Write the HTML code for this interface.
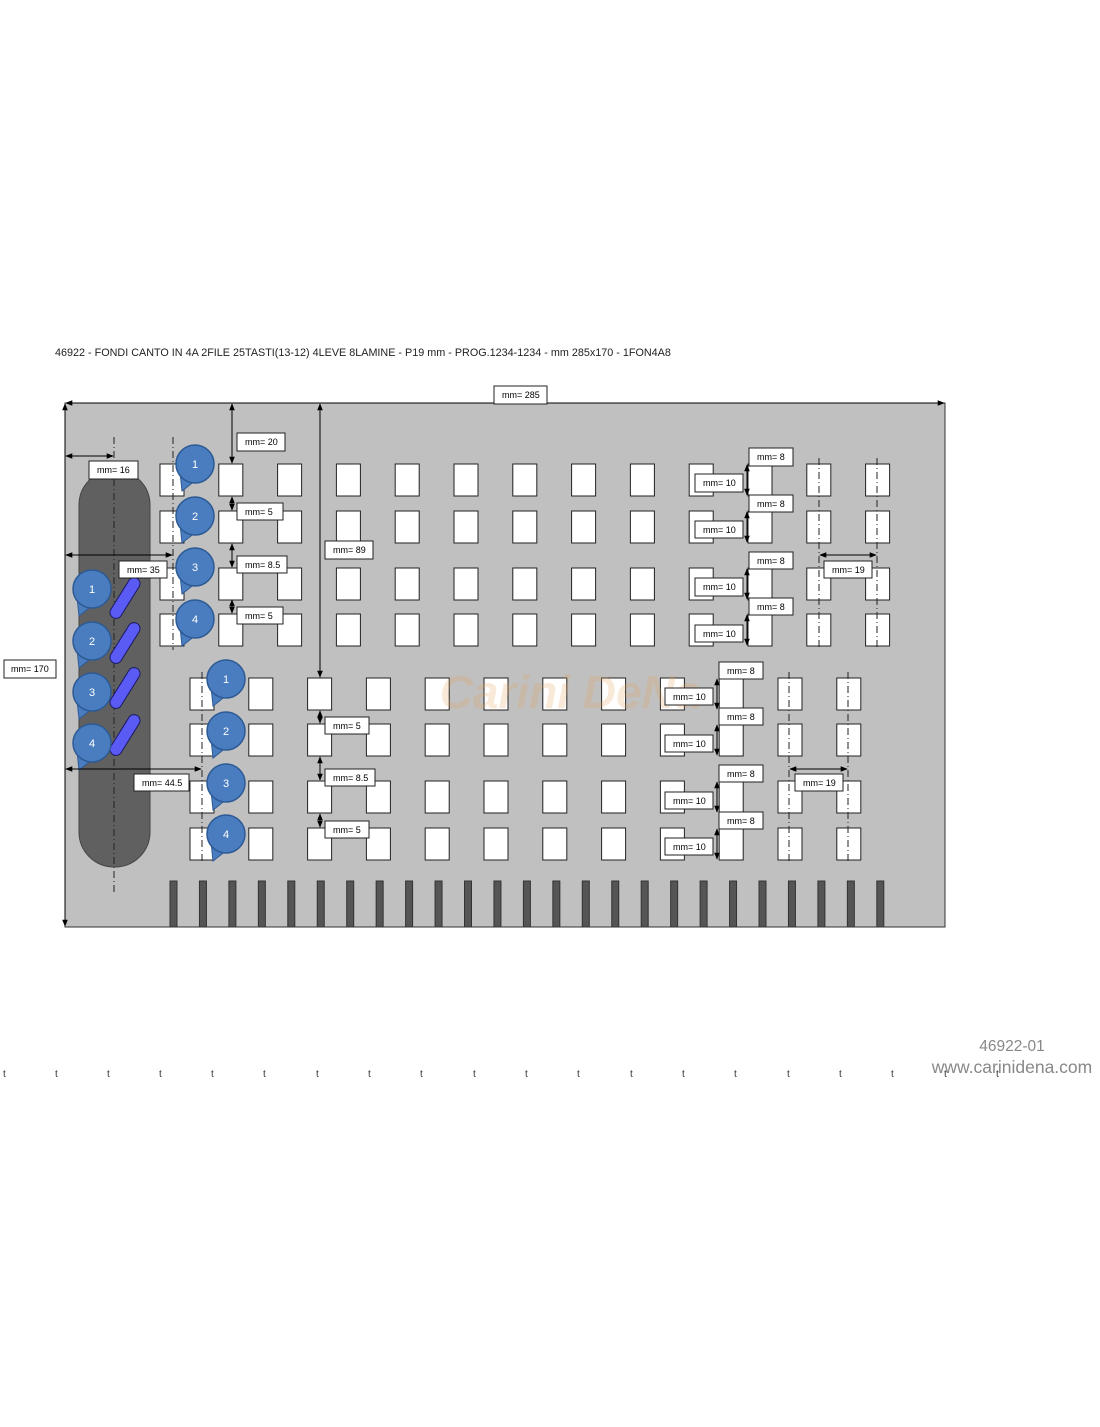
<!DOCTYPE html>
<html><head><meta charset="utf-8"><style>
html,body{margin:0;padding:0;background:#fff;}
body{width:1100px;height:1422px;position:relative;overflow:hidden;font-family:"Liberation Sans",sans-serif;}
svg text{font-family:"Liberation Sans",sans-serif;}
</style></head><body>
<svg id="s" width="1100" height="1422" viewBox="0 0 1100 1422" xmlns="http://www.w3.org/2000/svg">
<defs>
<marker id="a" viewBox="0 0 10 10" refX="9" refY="5" markerWidth="7" markerHeight="7" orient="auto-start-reverse"><path d="M0,1 L10,5 L0,9 z" fill="#000"/></marker>
</defs>
<text x="55" y="356" font-size="10.8" fill="#222">46922 - FONDI CANTO IN 4A 2FILE 25TASTI(13-12) 4LEVE 8LAMINE - P19 mm - PROG.1234-1234 - mm 285x170 - 1FON4A8</text>
<rect x="65" y="403" width="880" height="524" fill="#c0c0c0" stroke="#333" stroke-width="1"/>
<g id="blades"></g>
<rect x="79" y="470" width="71" height="397" rx="35" ry="35" fill="#606060" stroke="#444"/>
<g id="sq"></g>
<text x="570" y="708" font-size="46" font-style="italic" font-weight="bold" fill="#e8a050" opacity="0.22" text-anchor="middle">Carini DeNa</text>
<g stroke="#222" stroke-width="1" stroke-dasharray="7,3,1,3" fill="none">
<line x1="114" y1="437" x2="114" y2="893"/>
<line x1="173" y1="437" x2="173" y2="650"/>
<line x1="202" y1="672" x2="202" y2="862"/>
<line x1="819" y1="458" x2="819" y2="650"/>
<line x1="877" y1="458" x2="877" y2="650"/>
<line x1="789" y1="672" x2="789" y2="862"/>
<line x1="848" y1="672" x2="848" y2="862"/>
</g>
<g id="purp"></g>
<g id="bub"></g>
<g stroke="#000" stroke-width="1" marker-start="url(#a)" marker-end="url(#a)">
<line x1="66" y1="403" x2="944" y2="403"/>
<line x1="65" y1="404" x2="65" y2="926"/>
<line x1="232" y1="404" x2="232" y2="463"/>
<line x1="320" y1="404" x2="320" y2="677"/>
<line x1="66" y1="456" x2="113" y2="456"/>
<line x1="66" y1="555" x2="172" y2="555"/>
<line x1="66" y1="769" x2="201" y2="769"/>
<line x1="232" y1="497" x2="232" y2="510"/>
<line x1="232" y1="544" x2="232" y2="567"/>
<line x1="232" y1="600" x2="232" y2="613"/>
<line x1="320" y1="711" x2="320" y2="723"/>
<line x1="320" y1="757" x2="320" y2="780"/>
<line x1="320" y1="814" x2="320" y2="827"/>
<line x1="747" y1="465" x2="747" y2="495"/>
<line x1="747" y1="512" x2="747" y2="542"/>
<line x1="747" y1="569" x2="747" y2="599"/>
<line x1="747" y1="615" x2="747" y2="645"/>
<line x1="717" y1="679" x2="717" y2="709"/>
<line x1="717" y1="725" x2="717" y2="755"/>
<line x1="717" y1="782" x2="717" y2="812"/>
<line x1="717" y1="829" x2="717" y2="859"/>
<line x1="820" y1="555" x2="876" y2="555"/>
<line x1="790" y1="769" x2="847" y2="769"/>
</g>
<g id="lab" font-size="9" fill="#000">
<g fill="#fff" stroke="#222" stroke-width="1">
<rect x="494" y="386" width="53" height="18"/><rect x="4" y="660" width="52" height="18"/>
<rect x="237" y="433" width="48" height="18"/><rect x="325" y="541" width="48" height="18"/>
<rect x="89" y="461" width="49" height="18"/><rect x="119" y="561" width="48" height="17"/>
<rect x="134" y="774" width="55" height="17"/>
<rect x="237" y="503" width="46" height="17"/><rect x="237" y="556" width="50" height="17"/><rect x="237" y="607" width="46" height="17"/>
<rect x="325" y="717" width="44" height="17"/><rect x="325" y="769" width="50" height="17"/><rect x="325" y="821" width="44" height="17"/>
<rect x="749" y="448" width="44" height="18"/><rect x="749" y="495" width="44" height="17"/><rect x="749" y="552" width="44" height="17"/><rect x="749" y="598" width="44" height="17"/>
<rect x="695" y="474" width="48" height="18"/><rect x="695" y="521" width="48" height="17"/><rect x="695" y="578" width="48" height="18"/><rect x="695" y="625" width="48" height="17"/>
<rect x="719" y="662" width="44" height="17"/><rect x="719" y="708" width="44" height="17"/><rect x="719" y="765" width="44" height="17"/><rect x="719" y="812" width="44" height="17"/>
<rect x="665" y="688" width="48" height="17"/><rect x="665" y="735" width="48" height="17"/><rect x="665" y="792" width="48" height="17"/><rect x="665" y="838" width="48" height="17"/>
<rect x="824" y="561" width="48" height="17"/><rect x="795" y="774" width="48" height="17"/>
</g>
<text x="502" y="398">mm= 285</text><text x="11" y="672">mm= 170</text>
<text x="245" y="445">mm= 20</text><text x="333" y="553">mm= 89</text>
<text x="97" y="473">mm= 16</text><text x="127" y="573">mm= 35</text>
<text x="142" y="786">mm= 44.5</text>
<text x="245" y="515">mm= 5</text><text x="245" y="568">mm= 8.5</text><text x="245" y="619">mm= 5</text>
<text x="333" y="729">mm= 5</text><text x="333" y="781">mm= 8.5</text><text x="333" y="833">mm= 5</text>
<text x="757" y="460">mm= 8</text><text x="757" y="507">mm= 8</text><text x="757" y="564">mm= 8</text><text x="757" y="610">mm= 8</text>
<text x="703" y="486">mm= 10</text><text x="703" y="533">mm= 10</text><text x="703" y="590">mm= 10</text><text x="703" y="637">mm= 10</text>
<text x="727" y="674">mm= 8</text><text x="727" y="720">mm= 8</text><text x="727" y="777">mm= 8</text><text x="727" y="824">mm= 8</text>
<text x="673" y="700">mm= 10</text><text x="673" y="747">mm= 10</text><text x="673" y="804">mm= 10</text><text x="673" y="850">mm= 10</text>
<text x="832" y="573">mm= 19</text><text x="803" y="786">mm= 19</text>
</g>
<text x="1012" y="1051" font-size="15.5" fill="#888" text-anchor="middle" font-family="DejaVu Sans">46922-01</text>
<text x="1012" y="1073" font-size="17.5" fill="#888" text-anchor="middle" font-family="DejaVu Sans">www.carinidena.com</text>
<g id="ts" font-size="10" fill="#333"><text x="3" y="1077">t</text><text x="55" y="1077">t</text><text x="107" y="1077">t</text><text x="159" y="1077">t</text><text x="211" y="1077">t</text><text x="263" y="1077">t</text><text x="316" y="1077">t</text><text x="368" y="1077">t</text><text x="420" y="1077">t</text><text x="473" y="1077">t</text><text x="525" y="1077">t</text><text x="577" y="1077">t</text><text x="630" y="1077">t</text><text x="682" y="1077">t</text><text x="734" y="1077">t</text><text x="787" y="1077">t</text><text x="839" y="1077">t</text><text x="891" y="1077">t</text><text x="944" y="1077">t</text><text x="996" y="1077">t</text></g>
<g id="btxt" fill="#fff" font-size="11" text-anchor="middle">
<text x="195" y="468">1</text><text x="195" y="520">2</text><text x="195" y="571">3</text><text x="195" y="623">4</text>
<text x="92" y="593">1</text><text x="92" y="645">2</text><text x="92" y="696">3</text><text x="92" y="747">4</text>
<text x="226" y="683">1</text><text x="226" y="735">2</text><text x="226" y="787">3</text><text x="226" y="838">4</text>
</g>
</svg>
<script>
var N="http://www.w3.org/2000/svg";
function el(p,t,a){var e=document.createElementNS(N,t);for(var k in a)e.setAttribute(k,a[k]);document.getElementById(p).appendChild(e);return e;}
for(var i=0;i<25;i++){el("blades","rect",{x:170+i*29.45,y:881,width:7,height:46,fill:"#555",stroke:"#333"});}
[464,511,568,614].forEach(function(y){for(var i=0;i<13;i++)el("sq","rect",{x:160+i*58.8,y:y,width:24,height:32,fill:"#fff",stroke:"#222"});});
[678,724,781,828].forEach(function(y){for(var i=0;i<12;i++)el("sq","rect",{x:190+i*58.8,y:y,width:24,height:32,fill:"#fff",stroke:"#222"});});
[598,643,688,735].forEach(function(y){el("purp","rect",{x:-23,y:-6,width:46,height:12,rx:6,fill:"#5a5af5",stroke:"#1a1a60",transform:"translate(125,"+y+") rotate(-58)"});});
var B=[[195,464],[195,516],[195,567],[195,619],[92,589],[92,641],[92,692],[92,743],[226,679],[226,731],[226,783],[226,834]];
B.forEach(function(b){var x=b[0],y=b[1];
el("bub","path",{d:"M"+(x-15)+","+(y+8)+" L"+(x-13)+","+(y+27)+" L"+(x+1)+","+(y+16)+" z",fill:"#4a7dc0",stroke:"#2d5a94"});
el("bub","circle",{cx:x,cy:y,r:19,fill:"#4a7dc0",stroke:"#2d5a94","stroke-width":1.5});});
</script>
</body></html>
